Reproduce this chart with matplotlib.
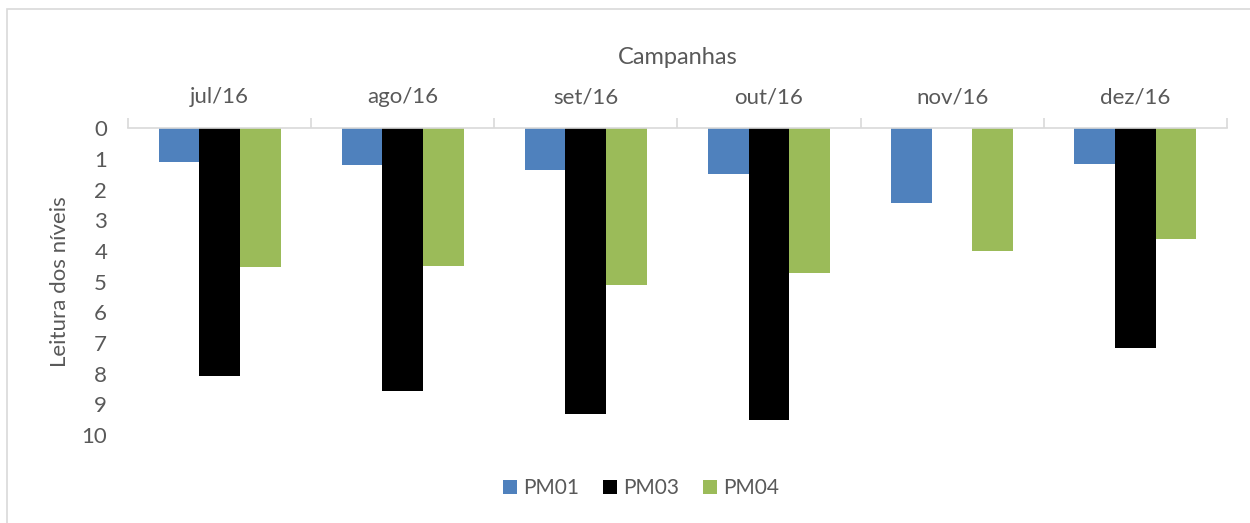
import numpy as np
import matplotlib
matplotlib.use('Agg')
import matplotlib.pyplot as plt
from matplotlib.patches import Rectangle

# dados das campanhas
campanhas = ['jul/16', 'ago/16', 'set/16', 'out/16', 'nov/16', 'dez/16']
pm01 = [1.11, 1.2, 1.37, 1.5, 2.44, 1.17]
pm03 = [8.08, 8.57, 9.32, 9.51, np.nan, 7.17]
pm04 = [4.53, 4.5, 5.11, 4.72, 4.0, 3.62]
series = ['PM01', 'PM03', 'PM04']

plt.rcParams['font.family'] = ['Lato', 'DejaVu Sans']
cinza = '#595959'
cores = ['#4F81BD', '#000000', '#9BBB59']

fig = plt.figure(figsize=(12.5, 5.23), dpi=100)
ax = fig.add_axes([0.1024, 0.168, 0.879, 0.587])

x = np.arange(len(campanhas))
w = 1 / 4.5
for i, (vals, cor, nome) in enumerate(zip([pm01, pm03, pm04], cores, series)):
    ax.bar(x + (i - 1) * w, vals, width=w, color=cor, label=nome)

ax.set_xlim(-0.5, len(campanhas) - 0.5)
ax.set_ylim(10, 0)
ax.set_yticks(range(0, 11))
ax.tick_params(axis='y', length=0, labelsize=16, labelcolor=cinza, pad=15)

ax.xaxis.tick_top()
ax.set_xticks(x)
ax.set_xticklabels(campanhas)
ax.set_xticks(np.arange(-0.5, len(campanhas)), minor=True)
ax.tick_params(axis='x', which='major', length=0, labelsize=16, labelcolor=cinza, pad=15)
ax.tick_params(axis='x', which='minor', length=7, color='#D9D9D9', width=1.2, direction='out')
ax.xaxis.set_label_position('top')
ax.set_xlabel('Campanhas', fontsize=17, color=cinza, labelpad=17)
ax.set_ylabel('Leitura dos níveis', fontsize=16, color=cinza, labelpad=8)

for s in ['left', 'right', 'bottom']:
    ax.spines[s].set_visible(False)
ax.spines['top'].set_color('#D9D9D9')
ax.spines['top'].set_linewidth(1.2)

leg = fig.legend(loc='center', bbox_to_anchor=(0.513, 0.066), ncol=3, frameon=False,
                 fontsize=15, handlelength=0.67, handleheight=0.67, columnspacing=1.15,
                 handletextpad=0.3)
for t in leg.get_texts():
    t.set_color(cinza)

# moldura do gráfico
fig.patches.append(Rectangle((7 / 1250, -0.02), 1.1, 1 - 9 / 523 + 0.02,
                             transform=fig.transFigure, fill=False,
                             edgecolor='#D9D9D9', linewidth=1.2))

fig.savefig('out.png', dpi=100)
